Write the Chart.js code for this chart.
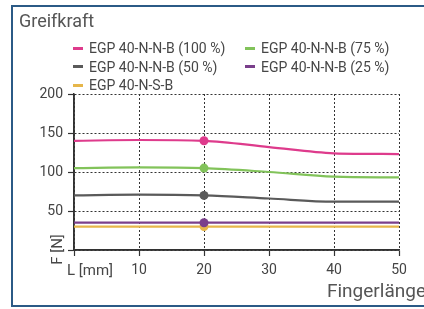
<!DOCTYPE html>
<html>
<head>
<meta charset="utf-8">
<script src="https://cdn.jsdelivr.net/npm/chart.js@4.4.0/dist/chart.umd.min.js"></script>
<style>
  html, body { margin: 0; padding: 0; background: #fff; }
  #page { width: 424px; height: 309px; overflow: hidden; position: relative; font-family: Roboto, "Liberation Sans", sans-serif; color: #474747; }
  #frame { position: absolute; left: 11px; top: 5px; width: 520px; height: 298px; border: 2px solid #2b5a86; border-right: none; }
  #wrap { position: absolute; left: 0; top: 0; width: 424px; height: 309px; }
  .t { position: absolute; white-space: nowrap; line-height: 1; }
  #title { left: 19px; top: 12px; font-size: 18px; color: #555; }
  .leg { position: absolute; white-space: nowrap; font-size: 14px; line-height: 16px; height: 16px; }
  .leg i { position: absolute; left: 0; top: 6.5px; width: 10px; height: 3px; }
  .leg span { position: absolute; left: 16px; top: 0; }
  #xt { left: 327px; top: 281px; font-size: 19px; color: #555; }
  #lmm { left: 67px; top: 263px; font-size: 15px; }
  #fn { left: 42px; top: 242px; font-size: 15px; transform: rotate(-90deg); transform-origin: center center; }
</style>
</head>
<body>
<div id="page">
<div id="frame"></div>
<div id="wrap"><canvas id="c" width="424" height="309"></canvas></div>
<div class="t" id="title">Greifkraft</div>
<div id="legend"></div>
<div class="t" id="xt">Fingerlänge</div>
<div class="t" id="lmm">L [mm]</div>
<div class="t" id="fn">F [N]</div>
</div>
<script>
const lengths = [0, 10, 20, 30, 40, 50];
const seriesNames = ['EGP 40-N-N-B (100 %)', 'EGP 40-N-N-B (75 %)', 'EGP 40-N-N-B (50 %)', 'EGP 40-N-N-B (25 %)', 'EGP 40-N-S-B'];
const force100 = [140, 141, 140, 132, 124, 123];
const force75 = [105, 106, 105, 100, 94, 93];
const force50 = [70, 71, 70, 66, 62, 62];
const force25 = [35, 35, 35, 35, 35, 35];
const forceS = [30, 30, 30, 30, 30, 30];
const markerAt = [0, 0, 1, 0, 0, 0];
const colors = ['#de3b8c', '#82c35a', '#5a5a5a', '#7a3f8b', '#e6b64a'];
const seriesValues = [force100, force75, force50, force25, forceS];

// Legend (HTML)
const legPos = [[73, 40], [245, 40], [73, 58.5], [245, 58.5], [73, 77]];
const legEl = document.getElementById('legend');
seriesNames.forEach((n, i) => {
  const d = document.createElement('div');
  d.className = 'leg';
  d.style.left = legPos[i][0] + 'px';
  d.style.top = legPos[i][1] + 'px';
  d.innerHTML = '<i style="background:' + colors[i] + '"></i><span>' + n + '</span>';
  legEl.appendChild(d);
});

const datasets = seriesValues.map((vals, i) => ({
  label: seriesNames[i],
  data: lengths.map((x, k) => ({ x: x, y: vals[k] })),
  borderColor: colors[i],
  backgroundColor: colors[i],
  borderWidth: 2.2,
  cubicInterpolationMode: 'monotone',
  pointRadius: markerAt.map(m => m ? 4.5 : 0),
  pointHoverRadius: 0,
  pointBorderWidth: 0,
  order: i
})).reverse();

const gridCol = '#333';
new Chart(document.getElementById('c'), {
  type: 'line',
  data: { datasets },
  options: {
    responsive: false,
    animation: false,
    events: [],
    layout: { padding: { top: 94, right: 25, left: 0, bottom: 0 } },
    plugins: { legend: { display: false }, title: { display: false }, tooltip: { enabled: false } },
    scales: {
      x: {
        type: 'linear', min: 0, max: 50,
        afterFit: s => { s.height = 59; },
        ticks: { stepSize: 10, padding: 6, color: '#444', font: { family: 'Roboto', size: 14 },
                 callback: v => v === 0 ? '' : v },
        grid: { color: gridCol, lineWidth: 1, drawTicks: true, tickLength: 6, tickColor: gridCol, tickBorderDash: [], tickWidth: 1.2 },
        border: { display: true, color: gridCol, width: 1.5, dash: [2, 2] }
      },
      y: {
        min: 0, max: 200,
        afterFit: s => { s.width = 74; },
        ticks: { stepSize: 25, padding: 5, color: '#444', font: { family: 'Roboto', size: 14 },
                 callback: v => (v % 50 === 0 && v !== 0) ? v : '' },
        grid: { color: gridCol, lineWidth: 1, drawTicks: true, tickLength: 6, tickColor: gridCol, tickBorderDash: [], tickWidth: 1.2 },
        border: { display: true, color: gridCol, width: 1.5, dash: [2, 2] }
      }
    }
  },
  plugins: [{
    id: 'axisLines',
    beforeDatasetsDraw(chart) {
      const { ctx, chartArea: a } = chart;
      ctx.save();
      ctx.strokeStyle = gridCol; ctx.lineWidth = 1.5; ctx.setLineDash([]);
      ctx.beginPath();
      ctx.moveTo(a.left, a.top); ctx.lineTo(a.left, a.bottom); ctx.lineTo(a.right, a.bottom);
      ctx.stroke();
      ctx.restore();
    }
  }]
});
</script>
</body>
</html>
